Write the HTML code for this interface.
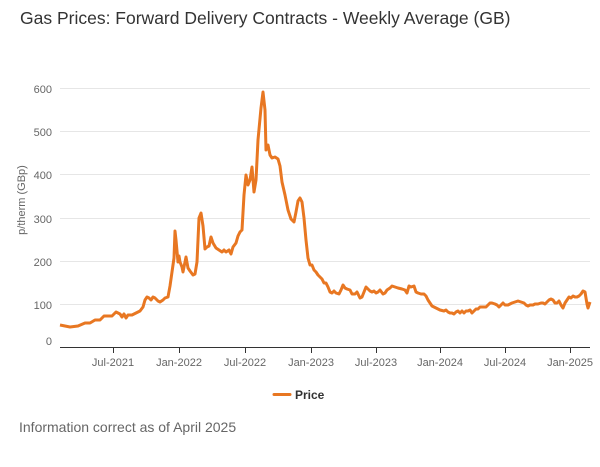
<!DOCTYPE html>
<html><head><style>
body{margin:0;width:600px;height:462px;background:#fff;font-family:"Liberation Sans",sans-serif;overflow:hidden}
</style></head><body>
<svg width="600" height="462" xmlns="http://www.w3.org/2000/svg" font-family="Liberation Sans, sans-serif">
<text x="20" y="24" font-size="17.5" fill="#333">Gas Prices: Forward Delivery Contracts - Weekly Average (GB)</text>
<g stroke="#e6e6e6" stroke-width="1">
<line x1="60" x2="590" y1="88.5" y2="88.5"/><line x1="60" x2="590" y1="131.5" y2="131.5"/>
<line x1="60" x2="590" y1="174.5" y2="174.5"/><line x1="60" x2="590" y1="218.5" y2="218.5"/>
<line x1="60" x2="590" y1="261.5" y2="261.5"/><line x1="60" x2="590" y1="304.5" y2="304.5"/>
</g>
<line x1="60" x2="590" y1="347.5" y2="347.5" stroke="#333" stroke-width="1"/>
<g font-size="11" fill="#666" text-anchor="end">
<text x="52" y="93">600</text><text x="52" y="136">500</text><text x="52" y="179">400</text>
<text x="52" y="223">300</text><text x="52" y="266">200</text><text x="52" y="309">100</text><text x="52" y="345">0</text>
</g>
<text transform="translate(25,200) rotate(-90)" font-size="11" fill="#666" text-anchor="middle">p/therm (GBp)</text>
<g stroke="#333"><line x1="113.5" x2="113.5" y1="347" y2="353"/><line x1="179.5" x2="179.5" y1="347" y2="353"/><line x1="245.5" x2="245.5" y1="347" y2="353"/><line x1="311.5" x2="311.5" y1="347" y2="353"/><line x1="376.5" x2="376.5" y1="347" y2="353"/><line x1="440.5" x2="440.5" y1="347" y2="353"/><line x1="505.5" x2="505.5" y1="347" y2="353"/><line x1="570.5" x2="570.5" y1="347" y2="353"/></g>
<g font-size="11" fill="#666" text-anchor="middle">
<text x="113" y="366">Jul-2021</text><text x="179" y="366">Jan-2022</text><text x="245" y="366">Jul-2022</text><text x="311" y="366">Jan-2023</text><text x="376" y="366">Jul-2023</text><text x="440" y="366">Jan-2024</text><text x="505" y="366">Jul-2024</text><text x="570" y="366">Jan-2025</text>
</g>
<polyline fill="none" stroke="#e87722" stroke-width="3" stroke-linejoin="round" points="60,325 65,326 70,327 78,326 85,323 90,323 95,320 100,320 104,316 108,316 112,316 116,312 120,314 122,317 124,314 126,318 128,315 132,315 136,313 140,311 143,307 145,300 147,297 149,298 151,300 153,297 155,298 158,301 160,302 163,300 165,298 168,297 170,286 172,272 174,258 175,231 176,240 178,262 179,256 180,262 182,267 183,272 185,262 186,257 188,268 190,271 193,275 195,274 197,262 199,218 201,213 203,226 205,249 207,247 209,246 211,237 213,243 216,248 219,250 222,252 224,250 226,252 229,250 231,254 233,247 236,243 238,236 240,232 242,230 244,195 246,175 248,185 250,180 252,167 254,192 256,180 258,140 261,108 263,92 265,110 266,150 268,145 270,155 272,158 275,157 278,159 280,166 282,182 285,195 288,210 291,219 294,222 296,212 298,201 300,198 302,202 304,218 306,240 308,258 310,265 312,265 314,270 316,272 318,275 320,277 322,279 324,283 326,283 328,287 330,292 332,293 334,291 336,293 339,294 341,290 343,285 345,288 347,289 350,290 352,294 355,294 357,292 360,298 362,297 364,292 366,287 368,289 370,291 372,292 374,291 376,293 378,292 380,290 383,294 385,293 387,290 390,288 392,286 395,287 398,288 402,289 405,290 407,293 409,286 411,287 414,286 416,292 418,293 421,294 424,294 426,296 428,300 430,303 432,306 434,307 436,308 440,310 444,311 446,310 448,312 450,313 452,313 454,314 456,312 458,311 460,313 462,311 464,313 466,311 468,311 470,310 472,313 474,311 476,309 478,309 480,307 482,307 484,307 486,307 488,305 490,303 492,303 495,304 497,305 499,307 501,305 503,303 505,305 508,305 510,304 512,303 515,302 518,301 521,302 524,303 526,305 528,306 530,305 533,305 535,304 538,304 541,303 543,303 545,304 547,302 549,300 551,299 553,300 555,303 557,303 559,301 561,305 563,308 565,303 567,300 569,297 571,298 573,296 575,297 577,297 579,296 581,294 583,291 585,292 587,304 588,308 590,302"/>
<line x1="274" x2="290" y1="394.5" y2="394.5" stroke="#e87722" stroke-width="3" stroke-linecap="round"/>
<text x="295" y="399" font-size="12" font-weight="bold" fill="#333">Price</text>
<text x="19" y="432" font-size="14" fill="#666">Information correct as of April 2025</text>
</svg>
</body></html>
